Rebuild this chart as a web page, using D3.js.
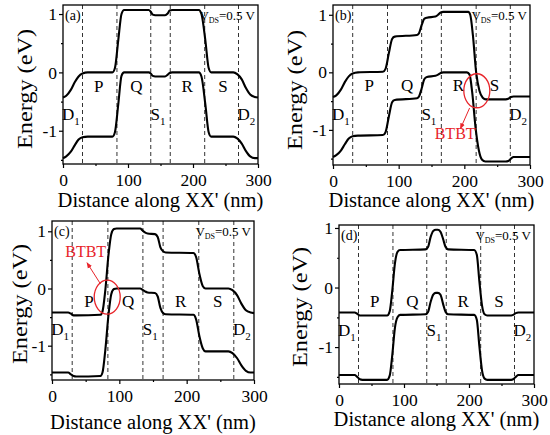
<!DOCTYPE html>
<html>
<head>
<meta charset="utf-8">
<script src="https://cdn.jsdelivr.net/npm/d3@7"></script>
<style>
body { margin: 0; background: #fff; }
svg { display: block; }
</style>
</head>
<body>
<svg id="fig" width="550" height="435"></svg>
<script>
// ---- data ----
const xTicks = [0, 100, 200, 300];
const xMinor = [50, 150, 250];
const yTicks = [-1, 0, 1];
const yMinor = [-1.5, -0.5, 0.5];
const dividers = [30, 83, 135, 165, 218, 270];
const regionLabels = [['P', 55], ['Q', 113], ['R', 191], ['S', 246]];
const lowerLabels = [['D', '1', 12], ['S', '1', 146], ['D', '2', 282]];

// (a) conduction / valence band, [nm, eV]
const cbA = [[0,-0.43],[5,-0.40],[12,-0.30],[18,-0.17],[24,-0.07],[30,-0.02],[38,0],[76,0],[80,0.08],[85,0.55],[90,1.0],[94,1.07],
  [132,1.07],[135,1.04],[138,0.99],[142,0.98],[157,0.98],[161,1.01],[164,1.06],[168,1.07],[209,1.07],[213,1.0],[219,0.55],[224,0.08],[228,0],
  [262,0],[268,-0.03],[275,-0.12],[281,-0.26],[288,-0.38],[295,-0.42],[300,-0.43]];
const vbA = [[0,-1.47],[5,-1.44],[12,-1.36],[18,-1.25],[24,-1.15],[30,-1.11],[38,-1.1],[76,-1.1],[80,-1.02],[85,-0.55],[90,-0.06],[94,0],
  [132,0],[135,-0.02],[138,-0.06],[142,-0.07],[157,-0.07],[161,-0.04],[164,-0.01],[168,0],[209,0],[213,-0.07],[219,-0.55],[224,-1.02],[228,-1.1],
  [262,-1.1],[268,-1.13],[275,-1.22],[281,-1.34],[288,-1.44],[295,-1.47],[300,-1.47]];

// (b)
const cbB = [[0,-0.43],[5,-0.40],[12,-0.30],[18,-0.17],[24,-0.07],[30,-0.02],[38,0],[76,0.01],[80,0.06],[85,0.33],[90,0.58],[94,0.62],
  [128,0.65],[131,0.68],[135,0.82],[139,0.93],[143,0.95],[156,0.97],[160,1.0],[164,1.04],[168,1.05],[206,1.05],[209,1.0],[213,0.65],[218,0.0],[223,-0.32],[228,-0.44],[233,-0.47],
  [263,-0.47],[267,-0.46],[271,-0.43],[275,-0.42],[300,-0.42]];
const vbB = [[0,-1.47],[5,-1.44],[12,-1.36],[18,-1.25],[24,-1.15],[30,-1.11],[38,-1.1],[76,-1.09],[80,-1.04],[85,-0.77],[90,-0.52],[94,-0.48],
  [128,-0.45],[131,-0.42],[135,-0.28],[139,-0.12],[143,-0.08],[156,-0.06],[160,-0.04],[164,-0.01],[168,0],[204,0],[208,-0.04],[212,-0.35],[217,-0.95],[222,-1.35],[227,-1.52],[232,-1.55],
  [263,-1.55],[267,-1.54],[271,-1.50],[275,-1.47],[300,-1.47]];

// (c)
const cbC = [[0,-0.42],[24,-0.42],[28,-0.44],[32,-0.47],[36,-0.47],[72,-0.46],[75,-0.40],[79,-0.05],[84,0.6],[88,0.95],[92,1.04],[96,1.05],
  [131,1.05],[134,1.02],[138,0.98],[142,0.96],[153,0.95],[157,0.9],[161,0.72],[165,0.65],[169,0.63],[210,0.62],[214,0.55],[219,0.25],[224,0.04],[228,0],
  [262,0],[268,-0.03],[275,-0.12],[281,-0.26],[288,-0.38],[295,-0.42],[300,-0.43]];
const vbC = [[0,-1.47],[24,-1.47],[28,-1.50],[32,-1.53],[36,-1.54],[72,-1.53],[75,-1.47],[79,-1.1],[84,-0.45],[88,-0.1],[92,-0.01],[96,0],
  [131,0],[134,-0.02],[138,-0.05],[142,-0.07],[153,-0.08],[157,-0.14],[161,-0.34],[165,-0.43],[169,-0.45],[210,-0.46],[214,-0.54],[219,-0.84],[224,-1.05],[228,-1.1],
  [262,-1.1],[268,-1.13],[275,-1.22],[281,-1.34],[288,-1.44],[295,-1.47],[300,-1.47]];

// (d)
const cbD = [[0,-0.42],[24,-0.42],[28,-0.44],[32,-0.47],[36,-0.47],[74,-0.47],[78,-0.40],[82,-0.05],[86,0.4],[90,0.6],[94,0.63],
  [133,0.64],[137,0.68],[141,0.85],[145,0.95],[149,0.97],[152,0.97],[156,0.94],[160,0.82],[164,0.68],[168,0.64],[208,0.63],[212,0.55],[216,0.1],[220,-0.3],[224,-0.45],[228,-0.47],
  [265,-0.47],[268,-0.46],[272,-0.43],[276,-0.42],[300,-0.42]];
const vbD = [[0,-1.47],[24,-1.47],[28,-1.50],[32,-1.54],[36,-1.55],[74,-1.55],[78,-1.48],[82,-1.13],[86,-0.68],[90,-0.5],[94,-0.46],
  [133,-0.45],[137,-0.41],[141,-0.24],[145,-0.12],[149,-0.09],[152,-0.09],[156,-0.12],[160,-0.27],[164,-0.41],[168,-0.45],[208,-0.46],[212,-0.54],[216,-0.99],[220,-1.39],[224,-1.53],[228,-1.55],
  [265,-1.55],[268,-1.54],[272,-1.50],[276,-1.47],[300,-1.47]];

// BTBT annotations: ellipse centre, arrow start/end, text position (nm, eV)
const btbtB = { cx: 219, cy: -0.32, from: [208, -0.62], to: [194, -0.98], text: [186, -1.15] };
const btbtC = { cx: 82, cy: -0.15, from: [72, 0.08], to: [52, 0.45], text: [50, 0.55] };

// ---- layout ----
const FONT = '"Liberation Serif", "Times New Roman", Tinos, "DejaVu Serif", serif';
const panels = [
  { tag: '(a)', cb: cbA, vb: vbA, box: { l: 63, r: 258, t: 5, b: 164 }, y: [-1.57, 1.155], ylab: [25, 89], xlab: 207 },
  { tag: '(b)', cb: cbB, vb: vbB, box: { l: 333, r: 530, t: 5, b: 165 }, y: [-1.61, 1.17], ylab: [295, 90], xlab: 207 },
  { tag: '(c)', cb: cbC, vb: vbC, box: { l: 52, r: 254, t: 221, b: 380 }, y: [-1.6, 1.18], ylab: [20, 304], xlab: 429, btbt: btbtC },
  { tag: '(d)', cb: cbD, vb: vbD, box: { l: 339, r: 534, t: 225, b: 384 }, y: [-1.62, 1.05], ylab: [300, 307], xlab: 426 }
];
panels[1].btbt = btbtB;

const svg = d3.select('#fig').style('font-family', FONT);
svg.append('defs').append('marker')
  .attr('id', 'arr').attr('viewBox', '0 0 10 10').attr('refX', 9).attr('refY', 5)
  .attr('markerWidth', 6).attr('markerHeight', 6).attr('orient', 'auto-start-reverse')
  .append('path').attr('d', 'M0,1L10,5L0,9z').attr('fill', '#e8242a');

panels.forEach(function(p) {
  const b = p.box;
  const x = d3.scaleLinear().domain([0, 300]).range([b.l, b.r]);
  const y = d3.scaleLinear().domain(p.y).range([b.b, b.t]);
  const g = svg.append('g');

  // dashed dividers
  g.selectAll('.div').data(dividers).enter().append('line')
    .attr('x1', d => x(d)).attr('x2', d => x(d)).attr('y1', b.t).attr('y2', b.b)
    .attr('stroke', '#333').attr('stroke-width', 1).attr('stroke-dasharray', '4,3');

  const line = d3.line().x(d => x(d[0])).y(d => y(d[1])).curve(d3.curveMonotoneX);
  [p.cb, p.vb].forEach(function(s) {
    g.append('path').attr('d', line(s)).attr('fill', 'none')
      .attr('stroke', '#000').attr('stroke-width', 2.1).attr('stroke-linejoin', 'round');
  });

  // axes
  const xAx = g.append('g').attr('transform', 'translate(0,' + b.b + ')')
    .call(d3.axisBottom(x).tickValues(xTicks).tickSize(4).tickSizeOuter(0));
  g.append('g').attr('transform', 'translate(0,' + b.b + ')')
    .call(d3.axisBottom(x).tickValues(xMinor).tickSize(2).tickFormat('').tickSizeOuter(0));
  const yAx = g.append('g').attr('transform', 'translate(' + b.l + ',0)')
    .call(d3.axisLeft(y).tickValues(yTicks).tickSize(4).tickSizeOuter(0).tickFormat(d3.format('d')));
  g.append('g').attr('transform', 'translate(' + b.l + ',0)')
    .call(d3.axisLeft(y).tickValues(yMinor).tickSize(2).tickFormat('').tickSizeOuter(0));
  g.selectAll('g').attr('font-family', null);
  g.selectAll('.domain').remove();
  g.selectAll('.tick line').attr('stroke', '#000').attr('stroke-width', 1.2);
  xAx.selectAll('text').attr('font-size', 17.5).attr('dy', '0.85em').attr('fill', '#000');
  yAx.selectAll('text').attr('font-size', 17.5).attr('fill', '#000').attr('x', -6)
    .text(d => d < 0 ? '-' + Math.abs(d) : d);

  g.append('rect').attr('x', b.l).attr('y', b.t).attr('width', b.r - b.l).attr('height', b.b - b.t)
    .attr('fill', 'none').attr('stroke', '#000').attr('stroke-width', 1.3);

  // titles
  g.append('text').attr('x', (b.l + b.r) / 2).attr('y', p.xlab).attr('text-anchor', 'middle')
    .attr('font-size', 20.5).text("Distance along XX' (nm)");
  g.append('text').attr('transform', 'translate(' + p.ylab[0] + ',' + p.ylab[1] + ') rotate(-90)')
    .attr('text-anchor', 'middle').attr('dy', '0.35em').attr('font-size', 21)
    .attr('textLength', 120).attr('lengthAdjust', 'spacingAndGlyphs').text('Energy (eV)');

  // tag and bias
  g.append('text').attr('x', b.l + 2).attr('y', b.t + 15).attr('font-size', 14).text(p.tag);
  const vt = g.append('text').attr('x', b.r - 3).attr('y', b.t + 15).attr('text-anchor', 'end').attr('font-size', 13);
  vt.append('tspan').text('V');
  vt.append('tspan').attr('font-size', 8).attr('dy', 3).text('DS');
  vt.append('tspan').attr('dy', -3).text('=0.5 V');

  // region labels
  regionLabels.forEach(function(r) {
    g.append('text').attr('x', x(r[1])).attr('y', y(-0.33)).attr('text-anchor', 'middle')
      .attr('font-size', 17).text(r[0]);
  });
  lowerLabels.forEach(function(r) {
    const t = g.append('text').attr('x', x(r[2])).attr('y', y(-0.82)).attr('text-anchor', 'middle')
      .attr('font-size', 17);
    t.append('tspan').text(r[0]);
    t.append('tspan').attr('font-size', 11).attr('dy', 5).text(r[1]);
  });

  if (p.btbt) {
    const a = p.btbt;
    g.append('ellipse').attr('cx', x(a.cx)).attr('cy', y(a.cy)).attr('rx', 13).attr('ry', 17)
      .attr('fill', 'none').attr('stroke', '#e8242a').attr('stroke-width', 1.3);
    g.append('line').attr('x1', x(a.from[0])).attr('y1', y(a.from[1]))
      .attr('x2', x(a.to[0])).attr('y2', y(a.to[1]))
      .attr('stroke', '#e8242a').attr('stroke-width', 1).attr('marker-end', 'url(#arr)');
    g.append('text').attr('x', x(a.text[0])).attr('y', y(a.text[1])).attr('text-anchor', 'middle')
      .attr('font-size', 16).attr('fill', '#e8242a').text('BTBT');
  }
});
</script>
</body>
</html>
